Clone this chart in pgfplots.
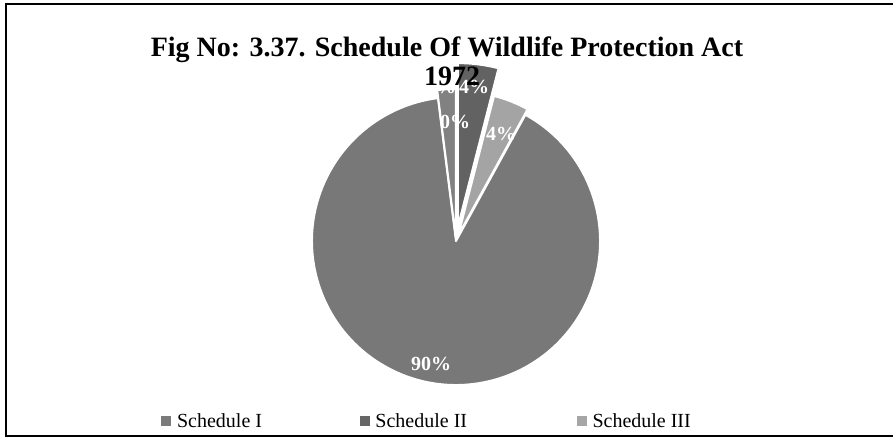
\documentclass[border=0pt]{standalone}
\usepackage{fontspec}
\setmainfont{Liberation Serif}
\usepackage{pgfplots}
\usepackage{pgfplotstable}
\pgfplotsset{compat=1.18}
\definecolor{schI}{HTML}{787878}
\definecolor{schII}{HTML}{626262}
\definecolor{schIII}{HTML}{A4A4A4}
\definecolor{schIV}{HTML}{818181}
\definecolor{schV}{HTML}{8A8A8A}
\definecolor{legI}{HTML}{7B7B7B}
\definecolor{legII}{HTML}{666666}
\definecolor{legIII}{HTML}{A6A6A6}

% slices listed clockwise from 12 o'clock; value in percent
\pgfplotstableread{
name value explode radius color
II   4     14      164    schII
III  4     6       144    schIII
I    90    0       144    schI
IV   2     4       148    schIV
V    0     0       144    schV
}\piedata

\begin{document}
\begin{tikzpicture}
\path[use as bounding box] (0pt,0pt) rectangle (893pt,439pt);
\begin{axis}[
  at={(0pt,0pt)}, anchor=origin,
  scale only axis, width=893pt, height=439pt,
  xmin=0, xmax=893, ymin=0, ymax=439,
  hide axis, clip=false,
  legend columns=3,
  legend style={draw=none, fill=none, at={(axis cs:161,18)}, anchor=west,
    font=\fontsize{20}{20}\selectfont, inner sep=0pt,
    nodes={inner sep=1.5pt},
    /tikz/every odd column/.append style={column sep=5pt},
    /tikz/column 2/.style={column sep=96pt},
    /tikz/column 4/.style={column sep=108pt}},
  legend image code/.code={\fill[#1] (0pt,-4.5pt) rectangle (9pt,4.5pt);},
]
\addlegendimage{legI}\addlegendentry{Schedule I}
\addlegendimage{legII}\addlegendentry{Schedule II}
\addlegendimage{legIII}\addlegendentry{Schedule III}

\def\cx{456}\def\cy{198}
\def\cum{0}
\pgfplotsforeachungrouped \i in {0,...,4}{%
  \pgfplotstablegetelem{\i}{value}\of\piedata \let\v\pgfplotsretval
  \pgfplotstablegetelem{\i}{explode}\of\piedata \let\e\pgfplotsretval
  \pgfplotstablegetelem{\i}{radius}\of\piedata \let\r\pgfplotsretval
  \pgfplotstablegetelem{\i}{color}\of\piedata \let\c\pgfplotsretval
  \pgfmathsetmacro\ta{90-3.6*\cum}%
  \pgfmathsetmacro\tb{90-3.6*(\cum+\v)}%
  \pgfmathsetmacro\tm{(\ta+\tb)/2}%
  \pgfmathsetmacro\ax{\cx+\e*cos(\tm)}%
  \pgfmathsetmacro\ay{\cy+\e*sin(\tm)}%
  \edef\temp{\noexpand\filldraw[fill=\c, draw=white, line width=2pt, line join=round]
    (axis cs:\ax,\ay) -- ++(\ta:\r pt) arc[start angle=\ta, end angle=\tb, radius=\r pt] -- cycle;}%
  \temp
  \pgfmathsetmacro\cum{\cum+\v}%
}

\tikzset{pct/.style={text=white, font=\bfseries\fontsize{20}{20}\selectfont, inner sep=0pt}}
\node[pct] at (axis cs:431,75) {90\%};
\node[pct] at (axis cs:501,305) {4\%};
\node[pct] at (axis cs:455,317) {0\%};
\node[pct] at (axis cs:441,352) {2\%};
\node[pct] at (axis cs:474,352) {4\%};

\node[font=\bfseries\fontsize{28}{28}\selectfont, anchor=base, inner sep=0pt]
  at (axis cs:447,382) {Fig No: 3.37. Schedule Of Wildlife Protection Act};
\node[font=\bfseries\fontsize{28}{28}\selectfont, anchor=base, inner sep=0pt]
  at (axis cs:452,353) {1972};

\draw[line width=2pt] (axis cs:900,434.5) -- (axis cs:6,434.5) -- (axis cs:6,3.5) -- (axis cs:900,3.5);
\end{axis}
\end{tikzpicture}
\end{document}
